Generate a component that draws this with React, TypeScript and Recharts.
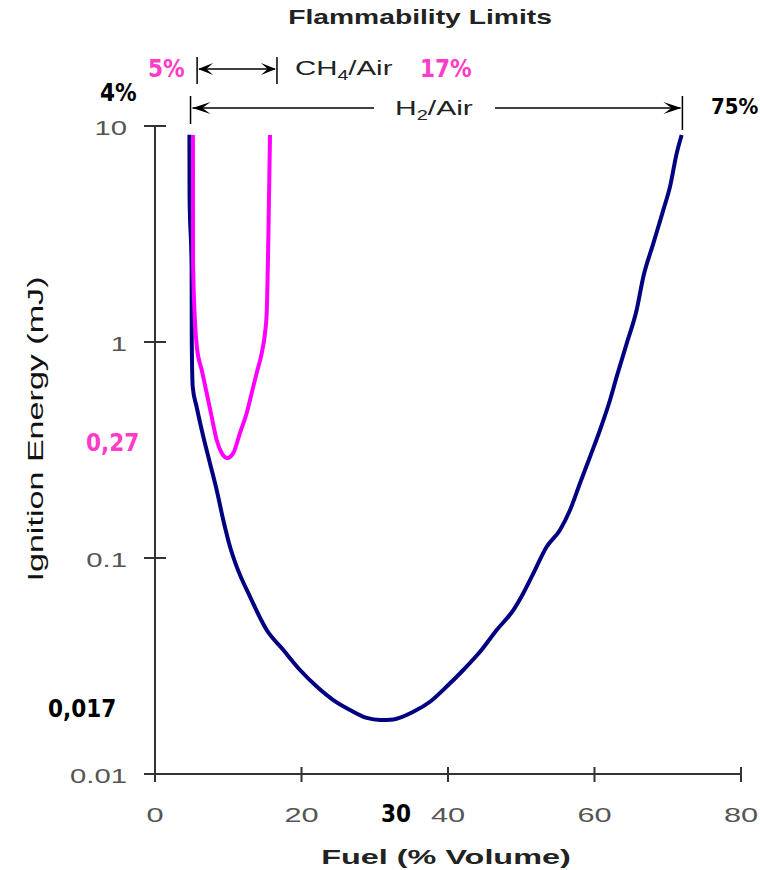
import React from 'react';
import { LineChart, Line, XAxis, YAxis } from 'recharts';

// H2 / air : minimum ignition energy (mJ) vs fuel (% volume)
const h2Fuel = [4.7, 4.72, 5.0, 5.02, 5.15, 5.69, 6.59, 7.51, 8.42, 9.32, 10.24, 11.15, 12.97, 15.25, 17.52, 19.8, 22.08, 24.34, 26.62, 28.9, 30.72, 32.53, 35.26, 37.54, 39.82, 42.09, 44.37, 46.65, 48.92, 50.28, 51.65, 53.47, 55.29, 56.66, 58.02, 59.39, 60.75, 62.12, 63.03, 64.4, 65.76, 66.66, 68.03, 69.39, 70.31, 71.22, 71.9];
const h2Energy = [9.1, 4.7, 2.2, 1.0, 0.62, 0.5, 0.365, 0.274, 0.2065, 0.15, 0.1128, 0.0912, 0.0662, 0.0464, 0.0375, 0.0303, 0.0254, 0.022, 0.0198, 0.0182, 0.0178, 0.0179, 0.0194, 0.0216, 0.0254, 0.0303, 0.0368, 0.0464, 0.0574, 0.0687, 0.0849, 0.1128, 0.1349, 0.1668, 0.2218, 0.2944, 0.3915, 0.5388, 0.691, 0.986, 1.41, 2.0, 2.86, 4.08, 5.24, 7.47, 9.08];

// CH4 / air
const ch4Fuel = [5.18, 5.2, 5.46, 5.73, 6.38, 7.06, 7.74, 8.42, 9.11, 9.87, 10.69, 11.6, 12.52, 13.2, 13.88, 14.57, 15.02, 15.25, 15.47, 15.7];
const ch4Energy = [9.08, 2.32, 1.24, 0.938, 0.742, 0.58, 0.45, 0.352, 0.306, 0.29, 0.306, 0.379, 0.469, 0.58, 0.719, 0.889, 1.1, 1.36, 2.97, 9.08];

const xTicks = [0, 20, 40, 60, 80];
const yTicks = [0.01, 0.1, 1, 10];
const yTickLabels = ['0.01', '0.1', '1', '10'];

// flammability limit markers (fuel % volume, as drawn)
const ch4Limits = [5.75, 16.65];
const h2Limits = [4.85, 72.0];

const h2Data = h2Fuel.map((x, i) => ({ x, e: h2Energy[i] }));
const ch4Data = ch4Fuel.map((x, i) => ({ x, e: ch4Energy[i] }));

const W = 760;
const H = 870;
const PLOT = { left: 155, top: 126, right: 741, bottom: 774 };
const xPx = (v: number) => PLOT.left + (v / 80) * (PLOT.right - PLOT.left);

const SANS = "'Liberation Sans', Arial, Helvetica, sans-serif";
const ANNOT = "'DejaVu Sans Condensed', 'DejaVu Sans', sans-serif";
const PINK = '#FF3CC8';

const YTick = (props: any) => {
  const { x, y, payload } = props;
  let label = String(payload.value);
  yTicks.forEach((t, i) => {
    if (Math.abs(t - payload.value) / t < 1e-6) label = yTickLabels[i];
  });
  return (
    <g>
      <line x1={x - 11} x2={x + 11} y1={y} y2={y} stroke="#333" strokeWidth={2} />
      <text
        transform={`translate(${x - 28},${y + 9}) scale(1.5,1)`}
        textAnchor="end"
        fontSize={19.5}
        fill="#555"
        fontFamily={SANS}
      >
        {label}
      </text>
    </g>
  );
};

const XTick = (props: any) => {
  const { x, y, payload } = props;
  return (
    <g>
      <line x1={x} x2={x} y1={y - 7} y2={y + 8} stroke="#333" strokeWidth={2} />
      <text
        transform={`translate(${x},${y + 48}) scale(1.5,1)`}
        textAnchor="middle"
        fontSize={20.5}
        fill="#555"
        fontFamily={SANS}
      >
        {payload.value}
      </text>
    </g>
  );
};

const arrowHead = (tipX: number, y: number, dir: number, len = 16, half = 6) => {
  const b = tipX - dir * len;
  const n = tipX - dir * len * 0.55;
  return <path d={`M${tipX},${y} L${b},${y - half} L${n},${y} L${b},${y + half} Z`} fill="#000" />;
};

const Annotations = () => {
  const c1 = xPx(ch4Limits[0]);
  const c2 = xPx(ch4Limits[1]);
  const h1 = xPx(h2Limits[0]);
  const h2 = xPx(h2Limits[1]);
  const cy = 69;
  const hy = 108;
  return (
    <svg width={W} height={H} style={{ position: 'absolute', left: 0, top: 0, pointerEvents: 'none' }}>
      {/* title */}
      <text
        transform="translate(420,24) scale(1.45,1)"
        textAnchor="middle"
        fontSize={19.5}
        fontWeight="bold"
        fill="#222"
        fontFamily={SANS}
      >
        Flammability Limits
      </text>

      {/* CH4 range */}
      <line x1={c1} x2={c1} y1={57} y2={84} stroke="#000" strokeWidth={1.5} />
      <line x1={c2} x2={c2} y1={57} y2={84} stroke="#000" strokeWidth={1.5} />
      <line x1={c1 + 2} x2={c2 - 2} y1={cy} y2={cy} stroke="#000" strokeWidth={1.5} />
      {arrowHead(c1 + 1, cy, -1, 15, 6)}
      {arrowHead(c2 - 1, cy, 1, 15, 6)}
      <text transform="translate(295,75) scale(1.4,1)" fontSize={21} fill="#222" fontFamily={SANS}>
        <tspan>CH</tspan>
        <tspan fontSize={14} dy={5}>4</tspan>
        <tspan fontSize={21} dy={-5}>/Air</tspan>
      </text>

      {/* H2 range */}
      <line x1={h1} x2={h1} y1={96} y2={124} stroke="#000" strokeWidth={1.5} />
      <line x1={h2} x2={h2} y1={96} y2={130} stroke="#000" strokeWidth={1.5} />
      <line x1={h1 + 2} x2={374} y1={hy} y2={hy} stroke="#000" strokeWidth={1.5} />
      <line x1={495} x2={h2 - 2} y1={hy} y2={hy} stroke="#000" strokeWidth={1.5} />
      {arrowHead(h1 + 2, hy, -1, 18, 6)}
      {arrowHead(h2 - 1, hy, 1, 18, 6)}
      <text transform="translate(395,115) scale(1.43,1)" fontSize={21} fill="#222" fontFamily={SANS}>
        <tspan>H</tspan>
        <tspan fontSize={14} dy={5}>2</tspan>
        <tspan fontSize={21} dy={-5}>/Air</tspan>
      </text>

      {/* bold value annotations */}
      <text x={148} y={77} fontSize={24} fontWeight="bold" fill={PINK} fontFamily={ANNOT}>5%</text>
      <text x={420} y={77} fontSize={24} fontWeight="bold" fill={PINK} fontFamily={ANNOT}>17%</text>
      <text x={100} y={101} fontSize={24} fontWeight="bold" fill="#000" fontFamily={ANNOT}>4%</text>
      <text x={711} y={114} fontSize={22} fontWeight="bold" fill="#000" fontFamily={ANNOT}>75%</text>
      <text x={86} y={451} fontSize={24} fontWeight="bold" fill={PINK} fontFamily={ANNOT}>0,27</text>
      <text x={48} y={717} fontSize={24} fontWeight="bold" fill="#000" fontFamily={ANNOT}>0,017</text>
      <text x={381} y={822} fontSize={24} fontWeight="bold" fill="#000" fontFamily={ANNOT}>30</text>

      {/* axis titles */}
      <text
        transform="translate(43,429) rotate(-90) scale(1.55,1)"
        textAnchor="middle"
        fontSize={22}
        fill="#111"
        fontFamily={SANS}
      >
        Ignition Energy (mJ)
      </text>
      <text
        transform="translate(446,864) scale(1.58,1)"
        textAnchor="middle"
        fontSize={20.5}
        fontWeight="bold"
        fill="#222"
        fontFamily={SANS}
      >
        Fuel (% Volume)
      </text>
    </svg>
  );
};

export default function App() {
  const yAxisWidth = 60;
  const xAxisHeight = 30;
  return (
    <div style={{ position: 'absolute', left: 0, top: 0, width: W, height: H, background: '#fff', overflow: 'hidden' }}>
      <LineChart
        width={W}
        height={H}
        margin={{
          top: PLOT.top,
          right: W - PLOT.right,
          left: PLOT.left - yAxisWidth,
          bottom: H - PLOT.bottom - xAxisHeight,
        }}
      >
        <XAxis
          type="number"
          dataKey="x"
          domain={[0, 80]}
          ticks={xTicks}
          interval={0}
          allowDataOverflow
          height={xAxisHeight}
          tickLine={false}
          tickSize={0}
          tickMargin={0}
          axisLine={{ stroke: '#333', strokeWidth: 2 }}
          tick={<XTick />}
        />
        <YAxis
          type="number"
          dataKey="e"
          scale="log"
          domain={[0.01, 10]}
          ticks={yTicks}
          interval={0}
          allowDataOverflow
          width={yAxisWidth}
          tickLine={false}
          tickSize={0}
          tickMargin={0}
          axisLine={{ stroke: '#333', strokeWidth: 2 }}
          tick={<YTick />}
        />
        <Line
          data={h2Data}
          dataKey="e"
          type="monotone"
          stroke="#000080"
          strokeWidth={4}
          dot={false}
          activeDot={false}
          isAnimationActive={false}
        />
        <Line
          data={ch4Data}
          dataKey="e"
          type="monotone"
          stroke="#FF00FF"
          strokeWidth={4}
          dot={false}
          activeDot={false}
          isAnimationActive={false}
        />
      </LineChart>
      <Annotations />
    </div>
  );
}
